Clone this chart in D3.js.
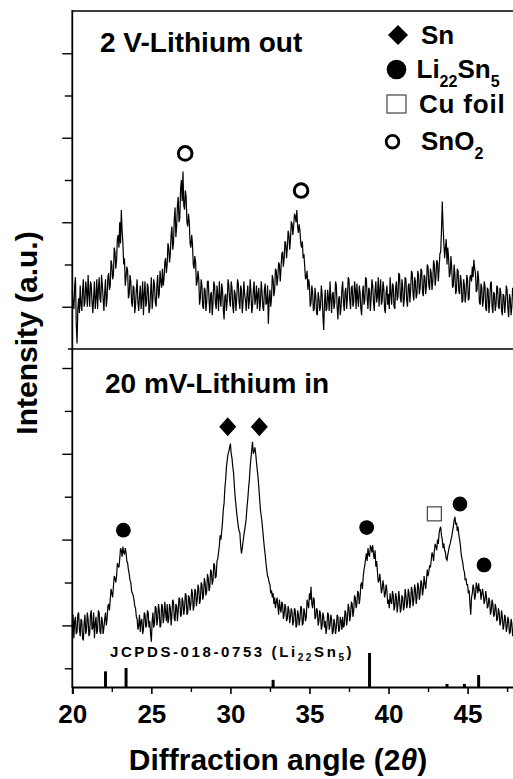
<!DOCTYPE html>
<meta charset="utf-8">
<script src="https://d3js.org/d3.v7.min.js"></script>
<style>
  body { margin: 0; background: #fff; }
  text { font-family: "Liberation Sans", Arial, sans-serif; font-weight: bold; fill: #000; }
</style>
<div id="my_dataviz"></div>
<script>
// scan grid (deg 2theta)
var angleStart = 20, angleStep = 0.05;

// 2 V - Lithium out, every 0.05 deg (one row per degree)
var outCounts = [
  140, 110, 95, 150, 170, 60, 13, 95, 120, 85, 150, 105, 90, 140, 165, 100, 110, 160, 140, 100,
  175, 130, 100, 160, 150, 110, 85, 125, 160, 95, 120, 165, 95, 140, 170, 120, 110, 175, 150, 120,
  90, 135, 165, 100, 120, 170, 180, 140, 150, 210, 200, 165, 175, 240, 230, 190, 210, 260, 270, 240,
  300, 250, 329, 280, 250, 200, 215, 150, 170, 195, 185, 120, 130, 175, 160, 110, 100, 150, 145, 85,
  105, 140, 165, 110, 90, 125, 150, 95, 120, 160, 80, 130, 160, 100, 110, 155, 145, 85, 95, 135,
  170, 95, 120, 165, 150, 110, 100, 150, 175, 120, 130, 185, 160, 145, 190, 150, 165, 205, 215, 180,
  200, 250, 240, 205, 225, 270, 290, 235, 250, 310, 335, 265, 290, 340, 360, 300, 310, 380, 400, 350,
  420, 340, 330, 375, 360, 300, 290, 320, 300, 250, 240, 270, 250, 200, 190, 220, 205, 150, 160, 185,
  165, 105, 120, 165, 150, 100, 95, 145, 140, 90, 110, 160, 160, 115, 85, 130, 135, 80, 110, 160,
  150, 110, 95, 150, 125, 90, 160, 120, 100, 155, 140, 95, 70, 125, 130, 90, 115, 165, 150, 115,
  100, 160, 145, 100, 85, 140, 130, 90, 120, 165, 155, 110, 95, 150, 140, 85, 110, 160, 130, 115,
  90, 130, 150, 95, 115, 165, 135, 85, 100, 140, 160, 105, 120, 150, 95, 130, 145, 90, 110, 160,
  135, 100, 90, 140, 155, 105, 110, 150, 60, 115, 140, 100, 120, 175, 165, 125, 140, 190, 185, 150,
  170, 205, 200, 160, 190, 225, 230, 195, 215, 255, 250, 215, 240, 280, 270, 235, 260, 300, 297, 270,
  290, 320, 315, 300, 329, 290, 275, 295, 280, 250, 240, 255, 215, 225, 195, 165, 170, 185, 140, 165,
  150, 100, 110, 150, 135, 90, 95, 145, 125, 85, 80, 135, 120, 90, 100, 150, 130, 80, 45, 110,
  140, 90, 95, 140, 120, 90, 160, 120, 85, 130, 135, 95, 110, 160, 150, 100, 70, 120, 125, 80,
  100, 140, 160, 110, 90, 135, 145, 95, 120, 170, 165, 115, 95, 145, 150, 100, 110, 160, 140, 95,
  155, 120, 100, 150, 135, 95, 80, 130, 150, 105, 115, 170, 165, 120, 95, 145, 140, 90, 120, 165,
  150, 110, 90, 140, 160, 110, 125, 170, 100, 140, 165, 105, 115, 160, 145, 95, 85, 135, 150, 105,
  130, 95, 170, 130, 105, 155, 150, 100, 95, 145, 160, 115, 125, 180, 175, 120, 110, 165, 145, 100,
  120, 170, 165, 115, 100, 150, 155, 110, 140, 185, 180, 130, 115, 170, 160, 120, 130, 185, 175, 130,
  145, 190, 185, 135, 125, 175, 170, 130, 150, 200, 195, 150, 140, 190, 180, 140, 160, 210, 200, 150,
  170, 210, 205, 160, 190, 225, 230, 280, 349, 290, 250, 215, 240, 260, 200, 240, 215, 170, 180, 220,
  190, 145, 150, 200, 175, 130, 140, 190, 185, 135, 130, 175, 160, 110, 115, 165, 150, 110, 130, 175,
  165, 115, 120, 170, 175, 160, 195, 170, 211, 190, 180, 135, 140, 185, 165, 110, 105, 155, 145, 100,
  115, 160, 150, 95, 90, 145, 140, 85, 110, 155, 160, 100, 85, 135, 130, 90, 105, 150, 145, 100,
  95, 145, 135, 90, 80, 130, 125, 85, 110, 150, 140, 95, 75, 130, 120, 80, 100, 145, 130, 95,
  110
];

// 20 mV - Lithium in
var inCounts = [
  100, 125, 70, 110, 120, 80, 85, 125, 130, 90, 75, 115, 110, 70, 65, 105, 125, 80, 90, 130,
  115, 75, 80, 125, 135, 90, 95, 130, 70, 105, 120, 80, 90, 135, 130, 85, 80, 120, 110, 80,
  95, 115, 130, 100, 115, 145, 150, 135, 160, 185, 175, 165, 190, 215, 210, 200, 215, 245, 240, 235,
  255, 280, 275, 260, 284, 270, 265, 280, 270, 250, 245, 230, 220, 205, 200, 180, 175, 170, 160, 145,
  140, 120, 115, 90, 100, 125, 85, 110, 115, 80, 90, 130, 125, 95, 100, 135, 130, 95, 110, 80,
  62, 110, 130, 95, 105, 145, 140, 100, 115, 150, 135, 95, 100, 150, 145, 105, 120, 155, 130, 110,
  150, 105, 115, 150, 140, 100, 125, 160, 155, 115, 110, 150, 145, 110, 135, 165, 160, 120, 125, 165,
  155, 125, 140, 175, 170, 125, 130, 170, 165, 135, 150, 185, 175, 135, 145, 185, 180, 145, 160, 195,
  185, 150, 160, 200, 195, 160, 170, 210, 200, 170, 180, 220, 210, 180, 190, 230, 225, 195, 205, 245,
  240, 210, 215, 250, 255, 270, 285, 310, 300, 320, 340, 370, 385, 420, 440, 470, 486, 500, 505, 515,
  524, 500, 490, 470, 455, 425, 400, 380, 361, 345, 330, 320, 315, 285, 268, 280, 295, 310, 322, 335,
  350, 375, 395, 420, 440, 470, 490, 510, 528, 500, 505, 515, 500, 480, 462, 445, 420, 395, 369, 355,
  340, 320, 299, 280, 265, 245, 229, 215, 210, 200, 195, 175, 182, 165, 175, 150, 165, 140, 155, 165,
  145, 125, 160, 140, 130, 155, 150, 115, 125, 150, 140, 110, 115, 145, 135, 105, 120, 140, 130, 100,
  110, 140, 135, 95, 100, 135, 125, 100, 115, 145, 140, 100, 105, 140, 130, 110, 120, 160, 150, 140,
  175, 160, 190, 150, 140, 165, 160, 115, 120, 140, 135, 100, 110, 135, 125, 90, 100, 130, 120, 95,
  110, 80, 95, 130, 125, 90, 100, 125, 115, 80, 85, 115, 105, 80, 95, 125, 120, 85, 90, 120,
  110, 90, 120, 95, 100, 135, 130, 100, 115, 150, 140, 110, 125, 155, 150, 120, 135, 170, 165, 140,
  150, 180, 175, 150, 165, 195, 200, 185, 214, 230, 240, 255, 268, 250, 280, 265, 260, 285, 282, 270,
  287, 265, 255, 275, 237, 250, 225, 200, 205, 220, 198, 175, 185, 205, 190, 165, 175, 195, 180, 150,
  160, 140, 175, 155, 150, 180, 170, 135, 145, 175, 165, 130, 150, 180, 160, 130, 140, 170, 165, 135,
  145, 185, 170, 140, 150, 185, 175, 140, 155, 190, 180, 145, 160, 195, 185, 150, 165, 200, 190, 160,
  175, 205, 200, 170, 185, 215, 198, 185, 205, 230, 215, 225, 240, 235, 252, 270, 265, 250, 275, 290,
  284, 275, 300, 290, 315, 325, 330, 310, 300, 280, 291, 275, 270, 255, 252, 265, 275, 285, 290, 300,
  307, 320, 330, 345, 353, 335, 340, 320, 330, 310, 300, 285, 265, 255, 245, 230, 225, 205, 210, 195,
  195, 175, 182, 150, 125, 165, 175, 195, 185, 160, 170, 200, 190, 175, 198, 180, 185, 160, 175, 185,
  170, 150, 160, 180, 165, 140, 145, 165, 155, 125, 135, 160, 150, 120, 125, 150, 140, 110, 115, 140,
  130, 100, 110, 135, 120, 90, 100, 125, 115, 85, 95, 120, 110, 80, 85, 115, 105, 75, 90, 110,
  95
];

// JCPDS 018-0753 reference lines (relative intensity)
var refAngles = [22.1, 23.4, 32.7, 38.8, 43.7, 44.8, 45.7];
var refIntensity = [46, 56, 21, 100, 9, 9, 35];

// peak markers
var sno2Angles = [27.14, 34.47];
var sno2Levels = [463, 375];
var snAngles = [29.83, 31.83];
var snLevels = [563, 563];
var li22Angles = [23.23, 38.62, 44.52, 46.04];
var li22Levels = [322, 328, 383, 241];
var cuAngles = [42.9];
var cuLevels = [360];

var xTicks = [20, 25, 30, 35, 40, 45];
var xMinorTicks = [22.5, 27.5, 32.5, 37.5, 42.5, 47.5];

var width = 513, height = 779;
var svg = d3.select("#my_dataviz").append("svg")
  .attr("width", width).attr("height", height);

var x = d3.scaleLinear().domain([20, 48]).range([72.3, 515]);
var yTop = d3.scaleLinear().domain([0, 800]).range([349, 11]);
var yLow = d3.scaleLinear().domain([0, 700]).range([668.3, 368]);
var yRef = d3.scaleLinear().domain([0, 100]).range([687, 653]);

var axisY = 687, x0 = 72.3;

// frame lines
svg.append("line").attr("x1", x0).attr("x2", width).attr("y1", 11).attr("y2", 11)
  .attr("stroke", "#000").attr("stroke-width", 1.6);
svg.append("line").attr("x1", 68).attr("x2", width).attr("y1", 349).attr("y2", 349)
  .attr("stroke", "#000").attr("stroke-width", 1.6);
svg.append("line").attr("x1", x0).attr("x2", x0).attr("y1", 10).attr("y2", axisY + 1)
  .attr("stroke", "#000").attr("stroke-width", 1.8);

// y ticks (no labels), long and short alternating
function yTickGroup(scale, vals, size) {
  var g = svg.append("g").attr("transform", "translate(" + x0 + ",0)")
    .call(d3.axisLeft(scale).tickValues(vals).tickSize(size).tickFormat(""));
  g.select(".domain").remove();
  g.selectAll("line").attr("stroke-width", 1.4);
}
yTickGroup(yTop, [100, 300, 500, 700], 10);
yTickGroup(yTop, [200, 400, 600], 7.5);
yTickGroup(yLow, [100, 300, 500, 700], 10);
yTickGroup(yLow, [0, 200, 400, 600], 7.5);

// x axis
var xa = svg.append("g").attr("transform", "translate(0," + axisY + ")")
  .call(d3.axisBottom(x).tickValues(xTicks).tickSize(7).tickPadding(11).tickFormat(d3.format("d")));
xa.select(".domain").attr("stroke-width", 2);
xa.selectAll("line").attr("stroke-width", 1.6);
xa.selectAll("text").style("font-size", "26px").style("font-family", "Liberation Sans, Arial, sans-serif").style("font-weight", "bold");
var xm = svg.append("g").attr("transform", "translate(0," + axisY + ")")
  .call(d3.axisBottom(x).tickValues(xMinorTicks).tickSize(5).tickFormat(""));
xm.select(".domain").remove();
xm.selectAll("line").attr("stroke-width", 1.4);

// traces
var lineOut = d3.line()
  .x(function (d, i) { return x(angleStart + i * angleStep); })
  .y(function (d) { return yTop(d); });
var lineIn = d3.line()
  .x(function (d, i) { return x(angleStart + i * angleStep); })
  .y(function (d) { return yLow(d); });

svg.append("path").datum(outCounts).attr("d", lineOut)
  .attr("fill", "none").attr("stroke", "#000").attr("stroke-width", 1.2);
svg.append("path").datum(inCounts).attr("d", lineIn)
  .attr("fill", "none").attr("stroke", "#000").attr("stroke-width", 1.2);

// reference sticks
svg.append("g").selectAll("line").data(refAngles).enter().append("line")
  .attr("x1", function (d) { return x(d); }).attr("x2", function (d) { return x(d); })
  .attr("y1", yRef(0)).attr("y2", function (d, i) { return yRef(refIntensity[i]); })
  .attr("stroke", "#000").attr("stroke-width", 3);

// markers
function diamond(w, h) { return "M0," + (-h) + "L" + w + ",0L0," + h + "L" + (-w) + ",0Z"; }

svg.append("g").selectAll("circle").data(sno2Angles).enter().append("circle")
  .attr("cx", function (d) { return x(d); })
  .attr("cy", function (d, i) { return yTop(sno2Levels[i]); })
  .attr("r", 6.8).attr("fill", "#fff").attr("stroke", "#000").attr("stroke-width", 3);

svg.append("g").selectAll("path").data(snAngles).enter().append("path")
  .attr("transform", function (d, i) { return "translate(" + x(d) + "," + yLow(snLevels[i]) + ")"; })
  .attr("d", diamond(8.5, 9.5)).attr("fill", "#000");

svg.append("g").selectAll("circle").data(li22Angles).enter().append("circle")
  .attr("cx", function (d) { return x(d); })
  .attr("cy", function (d, i) { return yLow(li22Levels[i]); })
  .attr("r", 7.4).attr("fill", "#000");

svg.append("g").selectAll("rect").data(cuAngles).enter().append("rect")
  .attr("x", function (d) { return x(d) - 7; })
  .attr("y", function (d, i) { return yLow(cuLevels[i]) - 7; })
  .attr("width", 14).attr("height", 14)
  .attr("fill", "#fff").attr("stroke", "#444").attr("stroke-width", 1.2);

// legend
var lg = svg.append("g");
lg.append("path").attr("transform", "translate(398,35)").attr("d", diamond(10, 10)).attr("fill", "#000");
lg.append("text").attr("x", 421).attr("y", 44).style("font-size", "26px").text("Sn");

lg.append("circle").attr("cx", 396.5).attr("cy", 69.5).attr("r", 9.8).attr("fill", "#000");
var t2 = lg.append("text").attr("x", 416.5).attr("y", 78).style("font-size", "26px");
t2.append("tspan").text("Li");
t2.append("tspan").attr("dy", 9).style("font-size", "16px").text("22");
t2.append("tspan").attr("dy", -9).text("Sn");
t2.append("tspan").attr("dy", 9).style("font-size", "16px").text("5");

lg.append("rect").attr("x", 387).attr("y", 95).attr("width", 19).attr("height", 18)
  .attr("fill", "#fff").attr("stroke", "#444").attr("stroke-width", 1.2);
lg.append("text").attr("x", 419).attr("y", 112.5).style("font-size", "26px").style("letter-spacing", "0.8px").text("Cu foil");

lg.append("circle").attr("cx", 392.5).attr("cy", 141.7).attr("r", 6.3)
  .attr("fill", "#fff").attr("stroke", "#000").attr("stroke-width", 2.8);
var t4 = lg.append("text").attr("x", 421).attr("y", 150).style("font-size", "26px");
t4.append("tspan").text("SnO");
t4.append("tspan").attr("dy", 9).style("font-size", "16px").text("2");

// panel labels
svg.append("text").attr("x", 100).attr("y", 52.3).style("font-size", "28px").text("2 V-Lithium out");
svg.append("text").attr("x", 105).attr("y", 393).style("font-size", "28px").text("20 mV-Lithium in");

var jc = svg.append("text").attr("x", 110).attr("y", 656.7)
  .style("font-size", "15px").style("letter-spacing", "2.6px");
jc.append("tspan").text("JCPDS-018-0753 (Li");
jc.append("tspan").attr("dy", 4).style("font-size", "10px").text("22");
jc.append("tspan").attr("dy", -4).text("Sn");
jc.append("tspan").attr("dy", 4).style("font-size", "10px").text("5");
jc.append("tspan").attr("dy", -4).text(")");

// axis titles
var xt = svg.append("text").attr("x", 278).attr("y", 770)
  .attr("text-anchor", "middle").style("font-size", "30px");
xt.append("tspan").text("Diffraction angle (2");
xt.append("tspan").style("font-style", "italic").text("\u03B8");
xt.append("tspan").text(")");

svg.append("text")
  .attr("transform", "translate(36.7,333) rotate(-90)")
  .attr("text-anchor", "middle").style("font-size", "30px")
  .text("Intensity (a.u.)");
</script>
